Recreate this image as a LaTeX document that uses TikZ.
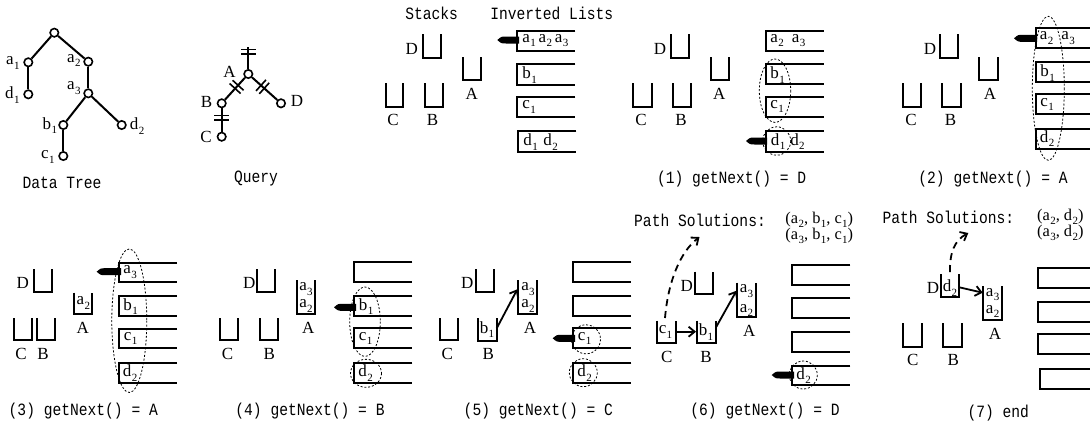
\documentclass[tikz,border=0pt]{standalone}
\usepackage{fontspec}
\setmainfont{Liberation Serif}
\newfontfamily\capfont[FakeStretch=0.85]{Liberation Mono}
\usetikzlibrary{arrows.meta,decorations.markings}
\newcommand\sbs[1]{\kern0.2pt\raisebox{-0.55ex}{\fontsize{5.5}{6}\selectfont #1}}
\newcommand\stkbox[4]{\draw[stk] (#1,#2) -- (#1,#4) -- (#3,#4) -- (#3,#2);}
\newcommand\lstbox[3]{\draw[lst] (#1+58,#2) -- (#1,#2) -- (#1,#3) -- (#1+58,#3);}
\newcommand\ptrshape[3]{\fill[black] (#1,#3) .. controls (#1+4,#3-3.5) .. (#1+9,#3-3.5) -- (#2,#3-3.5) -- (#2,#3+3.5) -- (#1+9,#3+3.5) .. controls (#1+4,#3+3.5) .. (#1,#3) -- cycle;}
\begin{document}
\begin{tikzpicture}[x=0.5pt,y=-0.5pt,
  stk/.style={line width=1pt},
  lst/.style={line width=1pt},
  lb/.style={font=\fontsize{8.5}{9}\selectfont, inner sep=0pt},
  sol/.style={font=\fontsize{8.2}{9}\selectfont, inner sep=0pt, anchor=west},
  captxt/.style={font=\capfont\fontsize{8.6}{10}\selectfont, inner sep=0pt},
  tn/.style={circle, draw, line width=0.8pt, minimum size=4.2pt, inner sep=0pt},
  edge/.style={line width=1pt},
  ell/.style={draw, dash pattern=on 1pt off 0.9pt, line width=0.4pt},
  arr/.style={line width=0.9pt, -{Straight Barb[length=3pt,width=5pt]}},
  darr/.style={arr, dash pattern=on 3.5pt off 2.5pt},
  tk/.style={postaction={decorate}, decoration={markings, mark=at position #1 with {\draw[line width=0.8pt] (-1.1pt,-3.7pt) -- (-1.1pt,3.7pt) (1.1pt,-3.7pt) -- (1.1pt,3.7pt);}}}
]
\useasboundingbox (0,0) rectangle (1090,425);

% ---------------- Data tree
\node[tn] (r) at (54.3,32.7) {};
\node[tn] (ta1) at (28.3,62.3) {};
\node[tn] (ta2) at (88.3,61.7) {};
\node[tn] (td1) at (28.3,94.3) {};
\node[tn] (ta3) at (88.3,93.3) {};
\node[tn] (tb1) at (63.3,125) {};
\node[tn] (td2) at (121.7,125) {};
\node[tn] (tc1) at (63.3,156) {};
\draw[edge] (r) -- (ta1);
\draw[edge] (r) -- (ta2);
\draw[edge] (ta1) -- (td1);
\draw[edge] (ta2) -- (ta3);
\draw[edge] (ta3) -- (tb1);
\draw[edge] (ta3) -- (td2);
\draw[edge] (tb1) -- (tc1);
\node[lb, anchor=east] (la1) at (20,63) {a\sbs1};
\node[lb, anchor=east] (la2) at (81,60.5) {a\sbs2};
\node[lb, anchor=east] (la3) at (81,88) {a\sbs3};
\node[lb, anchor=east] (ld1) at (20,95) {d\sbs1};
\node[lb, anchor=east] (lb1) at (57.5,125.5) {b\sbs1};
\node[lb, anchor=east] (lc1) at (55,157) {c\sbs1};
\node[lb, anchor=west] (ld2) at (129.5,126) {d\sbs2};
\node[captxt] (dt) at (62,183) {Data Tree};

% ---------------- Query
\node[tn] (qA) at (248.3,74) {};
\coordinate (qT) at (248.3,47);
\node[tn] (qB) at (221.7,103.3) {};
\node[tn] (qD) at (281,103.3) {};
\node[tn] (qC) at (221.7,136.7) {};
\draw[edge, tk=0.78] (qA) -- (qT);
\draw[edge, tk=0.42] (qA) -- (qB);
\draw[edge, tk=0.42] (qA) -- (qD);
\draw[edge, tk=0.4] (qB) -- (qC);
\node[lb, anchor=east] (qlA) at (236,72) {A};
\node[lb, anchor=east] (qlB) at (212.5,102) {B};
\node[lb, anchor=east] (qlC) at (212,137) {C};
\node[lb, anchor=west] (qlD) at (290.5,101) {D};
\node[captxt] (qt) at (256,179) {Query};

% ---------------- Panel 0
\node[captxt] (h1) at (431.7,13.3) {Stacks};
\node[captxt] (h2) at (551.7,13.3) {Inverted Lists};
\stkbox{423.3}{34.3}{440.7}{57.7}
\stkbox{462.7}{57.3}{480.7}{80}
\stkbox{385.7}{83.3}{403.3}{107.3}
\stkbox{425}{83.3}{443.3}{107.3}
\node[lb] (p0D) at (411.7,49.3) {D};
\node[lb] (p0A) at (471.7,94.3) {A};
\node[lb] (p0C) at (393,120) {C};
\node[lb] (p0B) at (432.5,120) {B};
\lstbox{517.3}{31}{51}
\lstbox{517.3}{64.3}{85}
\lstbox{517.3}{96.7}{117.3}
\lstbox{518.3}{131}{151.7}
\node[lb, anchor=west] (p0l1) at (522,40.5) {a\sbs1\,a\sbs2\,a\sbs3};
\node[lb, anchor=west] (p0l2) at (522,75) {b\sbs1};
\node[lb, anchor=west] (p0l3) at (522,107) {c\sbs1};
\node[lb, anchor=west] (p0l4) at (523,142) {d\sbs1\,\,d\sbs2};
\ptrshape{497.3}{519}{40}

% ---------------- Panel 1
\stkbox{670.7}{34.3}{689}{57.7}
\stkbox{710.7}{57.3}{728.7}{80}
\stkbox{633.3}{83.3}{651.7}{107.3}
\stkbox{672.7}{83.3}{691.3}{107.3}
\node[lb] (p1D) at (660,49.3) {D};
\node[lb] (p1A) at (719.3,94.3) {A};
\node[lb] (p1C) at (641,120) {C};
\node[lb] (p1B) at (681,120) {B};
\lstbox{765.7}{31}{51}
\lstbox{765.7}{64.3}{84.3}
\lstbox{765.7}{96.7}{116.7}
\lstbox{765.7}{131}{151.7}
\node[lb, anchor=west] (p1l1) at (770,40.5) {a\sbs2\hspace{4pt}a\sbs3};
\node[lb, anchor=west] (p1l2) at (770,75) {b\sbs1};
\node[lb, anchor=west] (p1l3) at (770,106.5) {c\sbs1};
\node[lb, anchor=west] (p1l4) at (770.5,141.5) {d\sbs1\hspace{2.5pt}d\sbs2};
\draw[ell] (775,90.7) ellipse [x radius=15.7, y radius=31.7];
\draw[ell] (776.7,141) ellipse [x radius=14, y radius=14.2];
\ptrshape{746}{767}{141}
\node[captxt] (p1cap) at (731.7,179.3) {(1) getNext() = D};

% ---------------- Panel 2
\stkbox{940}{34.3}{958.3}{57.7}
\stkbox{979.3}{57.3}{997.7}{80}
\stkbox{902.7}{83.3}{921}{107.3}
\stkbox{942.3}{83.3}{960.7}{107.3}
\node[lb] (p2D) at (930,49.3) {D};
\node[lb] (p2A) at (990,94.3) {A};
\node[lb] (p2C) at (911,120) {C};
\node[lb] (p2B) at (950.5,120) {B};
\lstbox{1035.7}{28.3}{48.3}
\lstbox{1035.7}{62.3}{82.3}
\lstbox{1035.7}{94.3}{114.3}
\lstbox{1035.7}{129.3}{149.3}
\node[lb, anchor=west] (p2l1) at (1039.5,38) {a\sbs2\hspace{4pt}a\sbs3};
\node[lb, anchor=west] (p2l2) at (1040,73) {b\sbs1};
\node[lb, anchor=west] (p2l3) at (1040,104.5) {c\sbs1};
\node[lb, anchor=west] (p2l4) at (1039.5,138.5) {d\sbs2};
\draw[ell] (1048.3,88.3) ellipse [x radius=16, y radius=72];
\ptrshape{1014}{1037}{38.3}
\node[captxt] (p2cap) at (993,179.3) {(2) getNext() = A};

% ---------------- Panel 3
\stkbox{34.3}{269.3}{52.3}{291.7}
\stkbox{74}{292.7}{92.3}{314}
\stkbox{14.3}{318.3}{32.3}{340}
\stkbox{36.7}{318.3}{55}{340}
\node[lb] (p3D) at (22.7,283.3) {D};
\node[lb] (p3A) at (82.7,327.7) {A};
\node[lb] (p3C) at (21,354) {C};
\node[lb] (p3B) at (43,354) {B};
\node[lb] (p3a2) at (83.3,303) {a\sbs2};
\lstbox{119}{262.7}{282}
\lstbox{119}{296}{316}
\lstbox{119}{328.7}{348.3}
\lstbox{119}{363.3}{382.7}
\node[lb, anchor=west] (p3l1) at (123,272) {a\sbs3};
\node[lb, anchor=west] (p3l2) at (123,306.5) {b\sbs1};
\node[lb, anchor=west] (p3l3) at (123.5,338.5) {c\sbs1};
\node[lb, anchor=west] (p3l4) at (122.5,373) {d\sbs2};
\draw[ell] (129.3,320.7) ellipse [x radius=17.5, y radius=71.8];
\ptrshape{96.7}{121}{271.7}
\node[captxt] (p3cap) at (83.3,411) {(3) getNext() = A};

% ---------------- Panel 4
\stkbox{257.3}{269.3}{275}{291.7}
\stkbox{296.7}{280}{315}{314}
\stkbox{220}{318.3}{238.3}{340}
\stkbox{260}{318.3}{278.3}{340}
\node[lb] (p4D) at (249.3,283.3) {D};
\node[lb] (p4A) at (308.3,327.7) {A};
\node[lb] (p4C) at (227.5,354) {C};
\node[lb] (p4B) at (269.3,354) {B};
\node[lb] (p4a3) at (306,289) {a\sbs3};
\node[lb] (p4a2) at (306,306) {a\sbs2};
\lstbox{354.3}{262.3}{282.3}
\lstbox{354.3}{296}{316}
\lstbox{354.3}{328.3}{348.3}
\lstbox{354.3}{363.3}{382.7}
\node[lb, anchor=west] (p4l2) at (358.5,306.5) {b\sbs1};
\node[lb, anchor=west] (p4l3) at (358.5,338.5) {c\sbs1};
\node[lb, anchor=west] (p4l4) at (358,373) {d\sbs2};
\draw[ell] (365,321.7) ellipse [x radius=15.3, y radius=34.7];
\draw[ell] (366,373.3) ellipse [x radius=15.5, y radius=14];
\ptrshape{334}{356}{307.3}
\node[captxt] (p4cap) at (310,411) {(4) getNext() = B};

% ---------------- Panel 5
\stkbox{476}{269.3}{494}{291.7}
\stkbox{518.3}{280}{536.7}{314}
\stkbox{440}{318.3}{457.7}{340}
\stkbox{478.3}{318.3}{496.7}{340.7}
\node[lb] (p5D) at (467.3,283.3) {D};
\node[lb] (p5A) at (530,327.7) {A};
\node[lb] (p5C) at (447.3,354) {C};
\node[lb] (p5B) at (488.3,354) {B};
\node[lb] (p5a3) at (528,289) {a\sbs3};
\node[lb] (p5a2) at (528,306) {a\sbs2};
\node[lb] (p5b1) at (487,329.5) {b\sbs1};
\coordinate (p5s) at (496.7,328.3);
\coordinate (p5t) at (517.3,289.3);
\draw[arr] (p5s) -- (p5t);
\lstbox{573.3}{262.3}{282.3}
\lstbox{573.3}{296}{316}
\lstbox{573.3}{328.3}{348.3}
\lstbox{573.3}{363.3}{382.7}
\node[lb, anchor=west] (p5l3) at (577.5,338.5) {c\sbs1};
\node[lb, anchor=west] (p5l4) at (577,373) {d\sbs2};
\draw[ell] (586,339.3) ellipse [x radius=14.5, y radius=14.5];
\draw[ell] (583.3,372.7) ellipse [x radius=14, y radius=14];
\ptrshape{552.7}{575}{338.3}
\node[captxt] (p5cap) at (538.3,411) {(5) getNext() = C};

% ---------------- Panel 6
\node[captxt] (p6ps) at (700,220.7) {Path Solutions:};
\node[sol] (p6s1) at (785,219.5) {(a\sbs2, b\sbs1, c\sbs1)};
\node[sol] (p6s2) at (785,235.5) {(a\sbs3, b\sbs1, c\sbs1)};
\stkbox{695}{271.7}{713.3}{294.3}
\stkbox{736.7}{282.7}{755.7}{317.3}
\stkbox{657.3}{320.7}{676}{343.3}
\stkbox{696.7}{320.7}{716}{343.3}
\node[lb] (p6D) at (686.7,286) {D};
\node[lb] (p6A) at (749.3,330.7) {A};
\node[lb] (p6C) at (666.7,357.3) {C};
\node[lb] (p6B) at (706,357.3) {B};
\node[lb] (p6a3) at (746.5,291) {a\sbs3};
\node[lb] (p6a2) at (746.5,310.5) {a\sbs2};
\node[lb] (p6c1) at (665.5,332) {c\sbs1};
\node[lb] (p6b1) at (706,332) {b\sbs1};
\coordinate (p6cs) at (676,331.7);
\coordinate (p6bt) at (696,331.7);
\coordinate (p6bs) at (716,327.3);
\coordinate (p6at) at (736.5,290.7);
\draw[arr] (p6cs) -- (p6bt);
\draw[arr] (p6bs) -- (p6at);
\coordinate (p6d0) at (665,318);
\coordinate (p6d1) at (699.5,237);
\draw[darr] (p6d0) .. controls (668,282) and (680,252) .. (p6d1);
\lstbox{792.3}{265}{285}
\lstbox{792.3}{298.3}{318.3}
\lstbox{792.3}{332.3}{351.7}
\lstbox{792.3}{365.7}{385}
\node[lb, anchor=west] (p6l4) at (796,375.5) {d\sbs2};
\draw[ell] (803.3,375) ellipse [x radius=14, y radius=14];
\ptrshape{771.7}{794}{375}
\node[captxt] (p6cap) at (765,411) {(6) getNext() = D};

% ---------------- Panel 7
\node[captxt] (p7ps) at (948.3,217.3) {Path Solutions:};
\node[sol] (p7s1) at (1036.7,216.5) {(a\sbs2, d\sbs2)};
\node[sol] (p7s2) at (1036.7,232.5) {(a\sbs3, d\sbs2)};
\stkbox{941}{274}{959.3}{296.7}
\stkbox{983.3}{286}{1001.7}{320}
\stkbox{903.3}{323.3}{921.7}{346.7}
\stkbox{943.3}{323.3}{961.7}{346.7}
\node[lb] (p7D) at (933,288.3) {D};
\node[lb] (p7A) at (995,334) {A};
\node[lb] (p7C) at (912.7,360) {C};
\node[lb] (p7B) at (953.3,360) {B};
\node[lb] (p7d2) at (950,288) {d\sbs2};
\node[lb] (p7a3) at (992.7,294.5) {a\sbs3};
\node[lb] (p7a2) at (992.7,311.5) {a\sbs2};
\coordinate (p7ds) at (959.3,287.3);
\coordinate (p7at) at (982.7,292.7);
\draw[arr] (p7ds) -- (p7at);
\coordinate (p7d0) at (950,272);
\coordinate (p7d1) at (968.3,233);
\draw[darr] (p7d0) .. controls (949.5,252) and (955,240) .. (p7d1);
\lstbox{1038.3}{268.3}{288.3}
\lstbox{1038.3}{302.3}{321.7}
\lstbox{1038.3}{334.3}{354}
\lstbox{1040}{369.3}{389.3}
\node[captxt] (p7cap) at (998.3,413.3) {(7) end};
\end{tikzpicture}
\end{document}
